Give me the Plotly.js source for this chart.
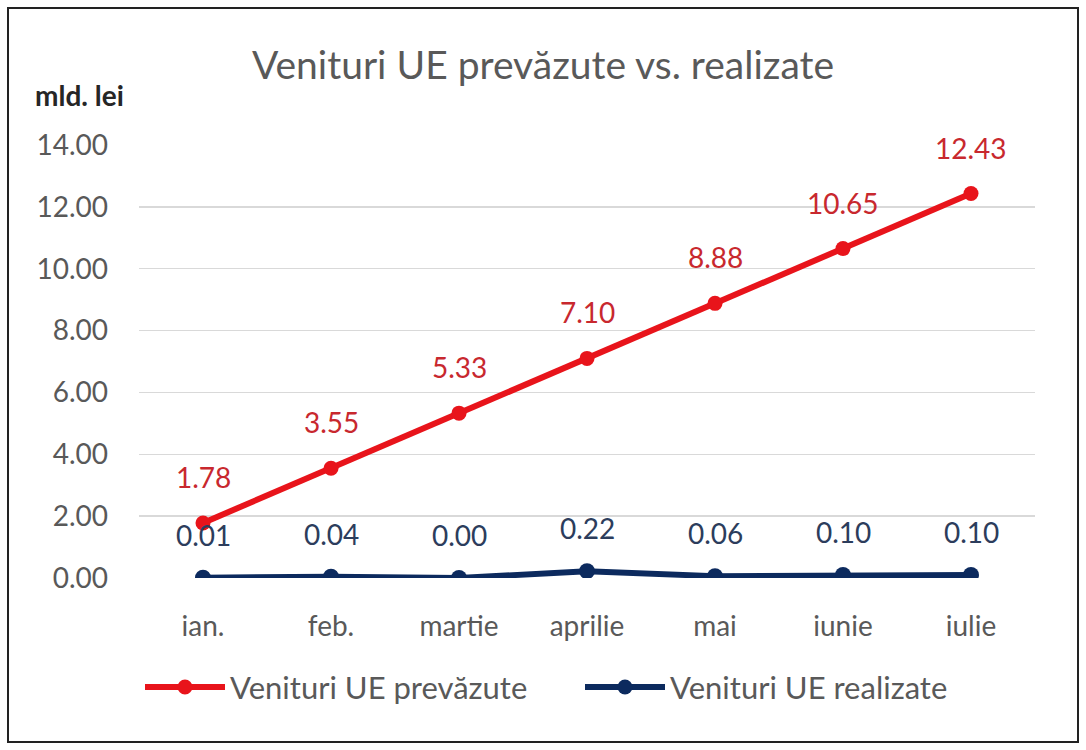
<!DOCTYPE html>
<html>
<head>
<meta charset="utf-8">
<script src="https://cdn.plot.ly/plotly-3.0.1.min.js"></script>
<style>
  html, body { margin: 0; padding: 0; background: #fff; }
  #wrap { position: relative; width: 1086px; height: 750px; }
  #chart { width: 1086px; height: 750px; }
  #frame { position: absolute; left: 7px; top: 7px; width: 1068px; height: 732px; border: 2px solid #222; pointer-events: none; }
</style>
</head>
<body>
<div id="wrap">
  <div id="chart"></div>
  <div id="frame"></div>
</div>
<script>
const months = ["ian.", "feb.", "martie", "aprilie", "mai", "iunie", "iulie"];
const prevazute = [1.78, 3.55, 5.33, 7.10, 8.88, 10.65, 12.43];
const realizate = [0.01, 0.04, 0.00, 0.22, 0.06, 0.10, 0.10];
const seriesNames = ["Venituri UE prevăzute", "Venituri UE realizate"];
const yTicks = [0, 2, 4, 6, 8, 10, 12, 14];

const FONT = "Lato, 'Open Sans', sans-serif";
const RED = "#e8141b";
const NAVY = "#0c2a5e";
const colors = [RED, NAVY];

// plot area in pixels (for legend placement helpers)
const PL = 139, PR = 1035, PT = 145, PB = 578;
const px2x = p => (p - PL) / (PR - PL);
const px2y = p => (PB - p) / (PB - PT);

const traces = [
  {
    x: months, y: prevazute, name: seriesNames[0], type: "scatter", mode: "lines+markers",
    line: { color: RED, width: 6 }, marker: { color: RED, size: 15 }
  },
  {
    x: months, y: realizate, name: seriesNames[1], type: "scatter", mode: "lines+markers",
    line: { color: NAVY, width: 6 }, marker: { color: NAVY, size: 16 }
  }
];

const annotations = [];
months.forEach((m, i) => {
  annotations.push({
    x: m, y: prevazute[i], xref: "x", yref: "y", text: prevazute[i].toFixed(2),
    showarrow: false, yshift: 46, font: { family: FONT, size: 28, color: "#c8282e" }
  });
  annotations.push({
    x: m, y: realizate[i], xref: "x", yref: "y", text: realizate[i].toFixed(2),
    showarrow: false, yshift: 43, font: { family: FONT, size: 28, color: "#2c3d5c" }
  });
});
annotations.push({
  x: px2x(33), y: px2y(95), xref: "paper", yref: "paper", xanchor: "left", yanchor: "middle",
  text: "<b>mld. lei</b>", showarrow: false, font: { family: FONT, size: 28, color: "#262626" }
});

// custom legend (long line sample with marker, as in the original)
const shapes = [];
const legendStarts = [145, 585];
seriesNames.forEach((name, k) => {
  const x0 = legendStarts[k], x1 = x0 + 80, yc = 687, xc = (x0 + x1) / 2;
  shapes.push({ type: "line", xref: "paper", yref: "paper", x0: px2x(x0), x1: px2x(x1), y0: px2y(yc), y1: px2y(yc),
                line: { color: colors[k], width: 6 } });
  shapes.push({ type: "circle", xref: "paper", yref: "paper", x0: px2x(xc - 7.5), x1: px2x(xc + 7.5),
                y0: px2y(yc + 7.5), y1: px2y(yc - 7.5), fillcolor: colors[k], line: { color: colors[k], width: 0 } });
  annotations.push({ x: px2x(x1 + 3), y: px2y(yc), xref: "paper", yref: "paper", xanchor: "left", yanchor: "middle",
                     text: name, showarrow: false, font: { family: FONT, size: 31, color: "#595959" } });
});

const layout = {
  width: 1086, height: 750,
  paper_bgcolor: "#fff", plot_bgcolor: "#fff",
  margin: { l: PL, r: 1086 - PR, t: PT, b: 750 - PB },
  title: { text: "Venituri UE prevăzute vs. realizate", x: 0.5, xref: "container", xanchor: "center",
           y: 1 - 65 / 750, yref: "container", yanchor: "middle",
           font: { family: FONT, size: 39, color: "#595959" } },
  xaxis: { type: "category", range: [-0.5, 6.5], showgrid: false, zeroline: false, showline: false,
           ticks: "", tickfont: { family: FONT, size: 28, color: "#595959" }, ticklabelstandoff: 29, fixedrange: true },
  yaxis: { range: [0, 14], tickvals: yTicks, ticktext: yTicks.map(v => v.toFixed(2)),
           showgrid: true, gridcolor: "#d9d9d9", gridwidth: 1.5, zeroline: false, showline: false,
           tickfont: { family: FONT, size: 28, color: "#595959" }, ticklabelstandoff: 30, fixedrange: true },
  showlegend: false,
  shapes: shapes,
  annotations: annotations
};

Plotly.newPlot("chart", traces, layout, { displayModeBar: false, staticPlot: true });
</script>
</body>
</html>
